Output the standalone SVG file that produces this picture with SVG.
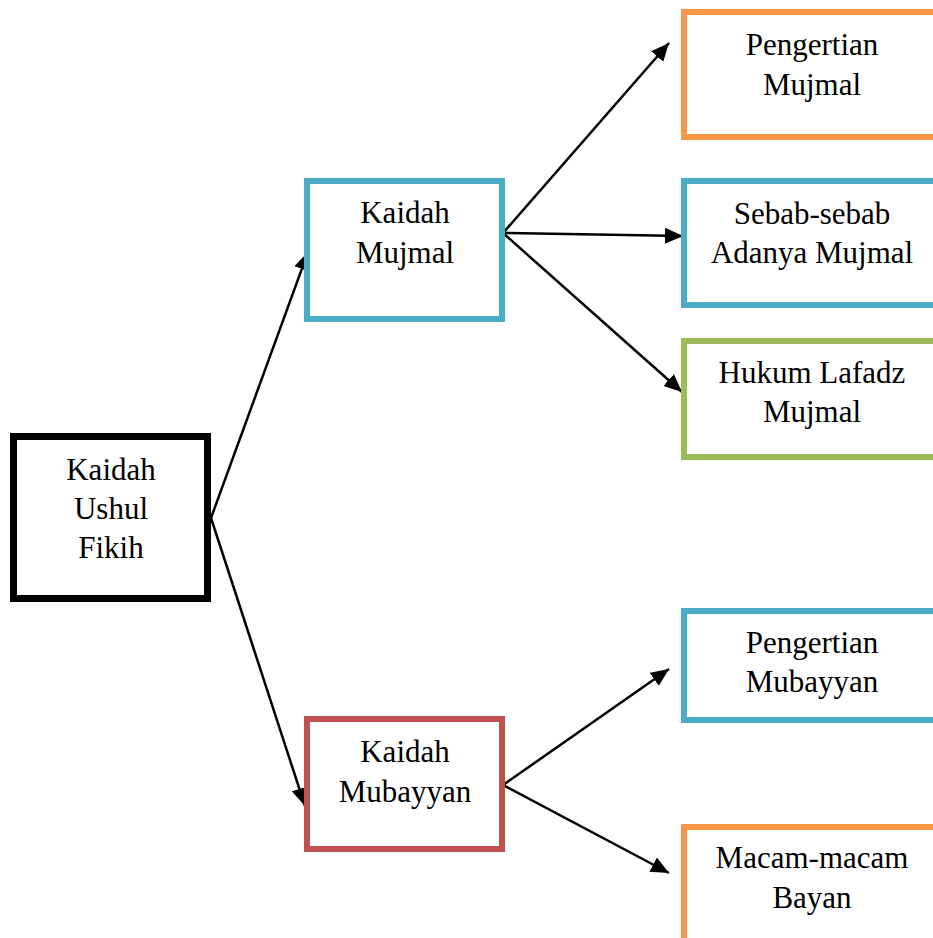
<svg xmlns="http://www.w3.org/2000/svg" width="933" height="938" viewBox="0 0 933 938">
<style>
.box{fill:#fff;stroke-width:6}
.t{font-family:'Liberation Serif','DejaVu Serif',serif;font-size:31px;fill:#000;text-anchor:middle}
.c{stroke:#000;stroke-width:2.5;fill:none;marker-end:url(#ah)}
</style>
<defs>
<marker id="ah" markerUnits="userSpaceOnUse" markerWidth="20" markerHeight="16" refX="18" refY="8" orient="auto">
<path d="M0,0 L18,8 L0,16 Z" fill="#000"/>
</marker>
</defs>
<rect width="933" height="938" fill="#fff"/>
<g id="connectors">
<line class="c" x1="211" y1="518" x2="308" y2="252"/>
<line class="c" x1="211" y1="518" x2="305" y2="806"/>
<line class="c" x1="503" y1="233" x2="669" y2="43"/>
<line class="c" x1="503" y1="233" x2="683" y2="236"/>
<line class="c" x1="503" y1="233" x2="682" y2="392"/>
<line class="c" x1="503" y1="785" x2="669" y2="669"/>
<line class="c" x1="503" y1="785" x2="669" y2="873"/>
</g>
<g id="kaidah-ushul-fikih">
<rect class="box" x="13.5" y="436.5" width="194" height="162" stroke="#000" style="stroke-width:7"/>
<text class="t" x="111" y="480">Kaidah</text>
<text class="t" x="111" y="519">Ushul</text>
<text class="t" x="111" y="558">Fikih</text>
</g>
<g id="kaidah-mujmal">
<rect class="box" x="307" y="181" width="195" height="138" stroke="#4BACC6"/>
<text class="t" x="405" y="223">Kaidah</text>
<text class="t" x="405" y="263">Mujmal</text>
</g>
<g id="kaidah-mubayyan">
<rect class="box" x="307" y="719" width="195" height="130" stroke="#C0504D"/>
<text class="t" x="405" y="762">Kaidah</text>
<text class="t" x="405" y="802">Mubayyan</text>
</g>
<g id="pengertian-mujmal">
<rect class="box" x="684" y="12" width="300" height="125" stroke="#F79646"/>
<text class="t" x="812" y="55">Pengertian</text>
<text class="t" x="812" y="95">Mujmal</text>
</g>
<g id="sebab-sebab">
<rect class="box" x="684" y="181" width="300" height="124" stroke="#4BACC6"/>
<text class="t" x="812" y="224">Sebab-sebab</text>
<text class="t" x="812" y="263">Adanya Mujmal</text>
</g>
<g id="hukum-lafadz">
<rect class="box" x="684" y="341" width="300" height="116" stroke="#9BBB59"/>
<text class="t" x="812" y="383">Hukum Lafadz</text>
<text class="t" x="812" y="422">Mujmal</text>
</g>
<g id="pengertian-mubayyan">
<rect class="box" x="684" y="611" width="300" height="109" stroke="#4BACC6"/>
<text class="t" x="812" y="653">Pengertian</text>
<text class="t" x="812" y="692">Mubayyan</text>
</g>
<g id="macam-macam-bayan">
<rect class="box" x="684" y="827" width="300" height="150" stroke="#F79646"/>
<text class="t" x="812" y="868">Macam-macam</text>
<text class="t" x="812" y="908">Bayan</text>
</g>
</svg>
